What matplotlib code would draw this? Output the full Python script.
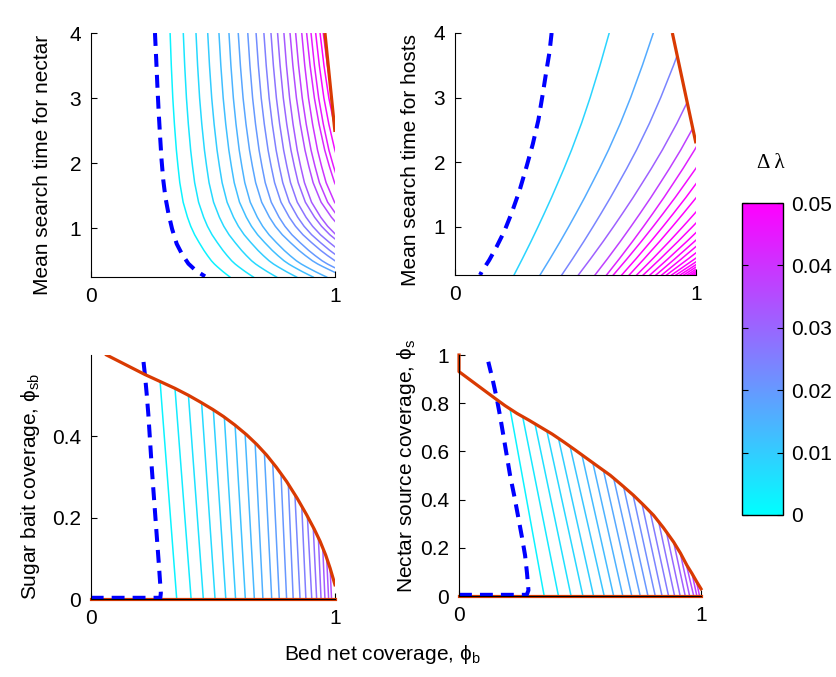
import numpy as np
import matplotlib
matplotlib.use('Agg')
import matplotlib.pyplot as plt
from matplotlib.patches import Polygon
from matplotlib.colors import Normalize
from matplotlib.cm import ScalarMappable

plt.rcParams['font.family'] = ['Liberation Sans', 'DejaVu Sans']
plt.rcParams['font.size'] = 15
plt.rcParams['mathtext.fontset'] = 'custom'
plt.rcParams['mathtext.rm'] = 'Liberation Sans'
plt.rcParams['mathtext.it'] = 'Liberation Sans'

cmap = plt.get_cmap('cool')
norm = Normalize(0, 0.05)
RED = '#d93a02'
BLUE = '#0000ff'
DASH = (0, (3.2, 2.0))

# ---- top left: search time for nectar ----
# shape of one contour (fraction of the way from its top x to its bottom x)
tl_prof_y = [4.0, 3.5, 3.0, 2.6, 2.2, 1.95, 1.7, 1.4, 1.17, 1.03, 0.9, 0.78, 0.66, 0.58,
             0.5, 0.45, 0.41, 0.37, 0.33, 0.29, 0.25]
tl_prof_f = [0.0, 0.02, 0.045, 0.072, 0.105, 0.132, 0.162, 0.218, 0.29, 0.345, 0.41, 0.485, 0.565, 0.625,
             0.69, 0.74, 0.787, 0.837, 0.888, 0.943, 1.0]
tl_x_top = [0.325, 0.379, 0.431, 0.479, 0.525, 0.566, 0.604, 0.643, 0.677, 0.709, 0.738,
            0.765, 0.791, 0.816, 0.839, 0.864, 0.884, 0.902, 0.921, 0.939, 0.952]
tl_x_bot = [0.570, 0.666, 0.761, 0.843, 0.911, 0.966, 1.044, 1.084, 1.145, 1.186, 1.232,
            1.287, 1.31, 1.40, 1.44, 1.48, 1.59, 1.60, 1.67, 1.74, 1.80]
tl_levels = [0.0025, 0.005, 0.0075, 0.01, 0.0125, 0.015, 0.0175, 0.02, 0.0225, 0.025, 0.0275,
             0.03, 0.0325, 0.035, 0.0375, 0.04, 0.0425, 0.045, 0.0475, 0.05, 0.05]
tl_red_x = [0.959, 1.0]
tl_red_y = [4.0, 2.48]
tl_blue_x = [0.263, 0.268, 0.273, 0.278, 0.284, 0.290, 0.297, 0.306, 0.318, 0.333, 0.352,
             0.374, 0.400, 0.430, 0.468]
tl_blue_y = [4.0, 3.6, 3.18, 2.8, 2.41, 2.05, 1.74, 1.47, 1.23, 0.99, 0.76,
             0.60, 0.455, 0.35, 0.26]

# ---- top right: search time for hosts ----
tr_prof_y = [0.25, 0.5, 0.77, 1.0, 1.2, 1.45, 1.67, 1.9, 2.19, 2.6, 3.0, 3.5, 4.0]
tr_prof_h = [0.0, 0.0345, 0.0705, 0.100, 0.125, 0.1555, 0.181, 0.2074, 0.239, 0.280, 0.316, 0.357, 0.395]
tr_x_bot = [0.245, 0.353, 0.443, 0.512, 0.581, 0.629, 0.657, 0.692, 0.723, 0.754, 0.781, 0.809,
            0.834, 0.858, 0.878, 0.899, 0.917, 0.934, 0.949, 0.963, 0.975, 0.985, 0.993]
tr_scale = [1.0, 1.19, 1.30, 1.46, 1.49, 1.53, 1.65, 1.71, 1.79, 1.92, 2.05, 2.17,
            2.27, 2.37, 2.6, 2.8, 2.96, 3.0, 3.0, 3.0, 3.0, 3.0, 3.0]
tr_levels = [0.0085, 0.0165, 0.024, 0.031, 0.0375, 0.0435, 0.0475, 0.05, 0.05, 0.05, 0.05, 0.05,
             0.05, 0.05, 0.05, 0.05, 0.05, 0.05, 0.05, 0.05, 0.05, 0.05, 0.05]
tr_red_x = [0.902, 1.0]
tr_red_y = [4.0, 2.29]
tr_blue_x = [0.401, 0.392, 0.380, 0.364, 0.346, 0.323, 0.297, 0.268, 0.235, 0.205, 0.173,
             0.142, 0.111, 0.104]
tr_blue_y = [4.0, 3.7, 3.43, 3.05, 2.65, 2.28, 1.93, 1.56, 1.21, 0.93, 0.69,
             0.48, 0.30, 0.25]

# ---- bottom left: sugar bait coverage ----
bl_x_bot = [0.352, 0.411, 0.461, 0.509, 0.553, 0.593, 0.633, 0.670, 0.705, 0.741, 0.772,
            0.802, 0.829, 0.857, 0.881, 0.905, 0.925, 0.943, 0.959, 0.974, 0.986]
bl_x_top = [0.284, 0.345, 0.400, 0.454, 0.502, 0.547, 0.591, 0.632, 0.673, 0.711, 0.745,
            0.779, 0.809, 0.836, 0.864, 0.887, 0.911, 0.932, 0.950, 0.966, 0.980]
bl_levels = [0.0025, 0.0041, 0.0058, 0.0074, 0.009, 0.0106, 0.0123, 0.0139, 0.0155, 0.0171, 0.0188,
             0.0204, 0.022, 0.0236, 0.0253, 0.0269, 0.0285, 0.0301, 0.0318, 0.0334, 0.035]
bl_red_x = [0.065, 0.222, 0.28, 0.345, 0.40, 0.447, 0.50, 0.543, 0.59, 0.638, 0.68, 0.720,
            0.76, 0.802, 0.845, 0.884, 0.915, 0.939, 0.962, 0.980, 1.0]
bl_red_y = [0.600, 0.552, 0.536, 0.518, 0.501, 0.485, 0.466, 0.449, 0.428, 0.404, 0.380, 0.354,
            0.324, 0.289, 0.248, 0.207, 0.172, 0.142, 0.108, 0.076, 0.035]
bl_blue_x = [0.0, 0.285, 0.287, 0.279, 0.270, 0.260, 0.250, 0.243, 0.236, 0.229, 0.222, 0.213]
bl_blue_y = [0.003, 0.003, 0.015, 0.085, 0.158, 0.240, 0.322, 0.388, 0.453, 0.505, 0.551, 0.600]

# ---- bottom right: nectar source coverage ----
br_x_bot = [0.352, 0.411, 0.463, 0.512, 0.556, 0.600, 0.639, 0.677, 0.714, 0.749, 0.781,
            0.811, 0.839, 0.866, 0.891, 0.914, 0.935, 0.953, 0.970, 0.983, 0.994]
br_x_top = [0.211, 0.263, 0.314, 0.363, 0.411, 0.459, 0.508, 0.553, 0.597, 0.639, 0.680,
            0.719, 0.756, 0.790, 0.825, 0.857, 0.887, 0.914, 0.939, 0.963, 0.981]
br_levels = [0.0025, 0.0043, 0.0061, 0.0079, 0.0097, 0.0115, 0.0133, 0.0151, 0.0169, 0.0187, 0.0205,
             0.0223, 0.0241, 0.0259, 0.0277, 0.0295, 0.0313, 0.0331, 0.0349, 0.0367, 0.0385]
br_red_x = [0.0, 0.0, 0.149, 0.19, 0.239, 0.29, 0.335, 0.385, 0.432, 0.48, 0.528, 0.575, 0.625,
            0.672, 0.721, 0.762, 0.804, 0.845, 0.887, 0.915, 0.942, 0.963, 0.983, 1.0]
br_red_y = [1.0, 0.931, 0.820, 0.79, 0.758, 0.729, 0.702, 0.672, 0.640, 0.606, 0.571, 0.537, 0.501,
            0.461, 0.418, 0.378, 0.335, 0.283, 0.224, 0.178, 0.127, 0.093, 0.058, 0.030]
br_blue_x = [0.0, 0.28, 0.287, 0.281, 0.273, 0.260, 0.246, 0.229, 0.211, 0.197, 0.183, 0.170,
             0.156, 0.139, 0.121]
br_blue_y = [0.005, 0.005, 0.024, 0.095, 0.169, 0.245, 0.321, 0.412, 0.501, 0.585, 0.668, 0.745,
             0.820, 0.898, 0.972]


def style_axes(ax, ylim, yticks, yticklabels):
    ax.set_xlim(0, 1)
    ax.set_ylim(*ylim)
    ax.set_xticks([0, 1])
    ax.set_xticklabels(['0', '1'])
    ax.set_yticks(yticks)
    ax.set_yticklabels(yticklabels)
    for s in ['top', 'right']:
        ax.spines[s].set_visible(False)
    ax.tick_params(direction='in', length=4, width=0.8, pad=7)


def left_of_red(ax, rx, ry):
    pts = [(-1, -1), (-1, ry[0])] + list(zip(rx, ry)) + [(rx[-1], -1)]
    return Polygon(pts, closed=True, transform=ax.transData, fill=False, visible=False)


fig = plt.figure(figsize=(8.37, 6.77), dpi=100)

# top left
ax1 = fig.add_axes([0.1084, 0.5908, 0.2918, 0.3604])
clip1 = left_of_red(ax1, tl_red_x, tl_red_y)
ax1.add_patch(clip1)
prof_f = np.array(tl_prof_f)
for xt, xb, lv in zip(tl_x_top, tl_x_bot, tl_levels):
    ln, = ax1.plot(xt + prof_f * (xb - xt), tl_prof_y, color=cmap(norm(lv)), lw=1.1)
    ln.set_clip_path(clip1)
ax1.plot(tl_blue_x, tl_blue_y, color=BLUE, lw=2.9, ls=DASH)
ax1.plot(tl_red_x, tl_red_y, color=RED, lw=2.3, solid_capstyle='butt')
style_axes(ax1, (0.25, 4), [1, 2, 3, 4], ['1', '2', '3', '4'])
ax1.set_ylabel('Mean search time for nectar')
ax1.yaxis.set_label_coords(-0.16, 0.46)

# top right
ax2 = fig.add_axes([0.5436, 0.5938, 0.2879, 0.3575])
clip2 = left_of_red(ax2, tr_red_x, tr_red_y)
ax2.add_patch(clip2)
prof_h = np.array(tr_prof_h)
for xb, sc, lv in zip(tr_x_bot, tr_scale, tr_levels):
    ln, = ax2.plot(xb + sc * prof_h, tr_prof_y, color=cmap(norm(lv)), lw=1.1)
    ln.set_clip_path(clip2)
ax2.plot(tr_blue_x, tr_blue_y, color=BLUE, lw=2.9, ls=DASH)
ax2.plot(tr_red_x, tr_red_y, color=RED, lw=2.3, solid_capstyle='butt')
style_axes(ax2, (0.25, 4), [1, 2, 3, 4], ['1', '2', '3', '4'])
ax2.set_ylabel('Mean search time for hosts')
ax2.yaxis.set_label_coords(-0.145, 0.475)

# bottom left
ax3 = fig.add_axes([0.1084, 0.1152, 0.2918, 0.3604])
for xb, xt, lv in zip(bl_x_bot, bl_x_top, bl_levels):
    yt = np.interp(xt, bl_red_x, bl_red_y)
    ax3.plot([xb, xt], [0, yt], color=cmap(norm(lv)), lw=1.1)
ax3.plot([0, 1], [0, 0], color=RED, lw=2.3, clip_on=False)
ax3.plot(bl_blue_x, bl_blue_y, color=BLUE, lw=2.9, ls=DASH)
ax3.plot(bl_red_x, bl_red_y, color=RED, lw=2.3)
style_axes(ax3, (0, 0.6), [0, 0.2, 0.4], ['0', '0.2', '0.4'])
ax3.set_ylabel('Sugar bait coverage, ϕ$_{\\rm sb}$')
ax3.yaxis.set_label_coords(-0.2, 0.46)

# bottom right
ax4 = fig.add_axes([0.5484, 0.1196, 0.2891, 0.3560])
for xb, xt, lv in zip(br_x_bot, br_x_top, br_levels):
    yt = np.interp(xt, br_red_x, br_red_y)
    ax4.plot([xb, xt], [0, yt], color=cmap(norm(lv)), lw=1.1)
ax4.plot([0, 1], [0, 0], color=RED, lw=2.3, clip_on=False)
ax4.plot(br_blue_x, br_blue_y, color=BLUE, lw=2.9, ls=DASH)
ax4.plot(br_red_x, br_red_y, color=RED, lw=2.3, clip_on=False)
style_axes(ax4, (0, 1), [0, 0.2, 0.4, 0.6, 0.8, 1], ['0', '0.2', '0.4', '0.6', '0.8', '1'])
ax4.set_ylabel('Nectar source coverage, ϕ$_{\\rm s}$')
ax4.yaxis.set_label_coords(-0.17, 0.54)

fig.text(382 / 837, 1 - 655 / 677, 'Bed net coverage, ϕ$_{\\rm b}$', ha='center', va='center')

# colorbar
cax = fig.add_axes([0.8865, 0.2393, 0.049, 0.4608])
sm = ScalarMappable(norm=norm, cmap=cmap)
cb = fig.colorbar(sm, cax=cax, ticks=[0, 0.01, 0.02, 0.03, 0.04, 0.05])
cb.ax.set_yticklabels(['0', '0.01', '0.02', '0.03', '0.04', '0.05'])
cb.ax.tick_params(direction='in', length=4, left=True, right=True, pad=6)
cb.outline.set_linewidth(1.0)
fig.text(771 / 837, 1 - 163 / 677, 'Δ λ', ha='center', va='center',
         family=['Liberation Serif', 'DejaVu Serif'], fontsize=15)

fig.savefig('out.png', dpi=100)
